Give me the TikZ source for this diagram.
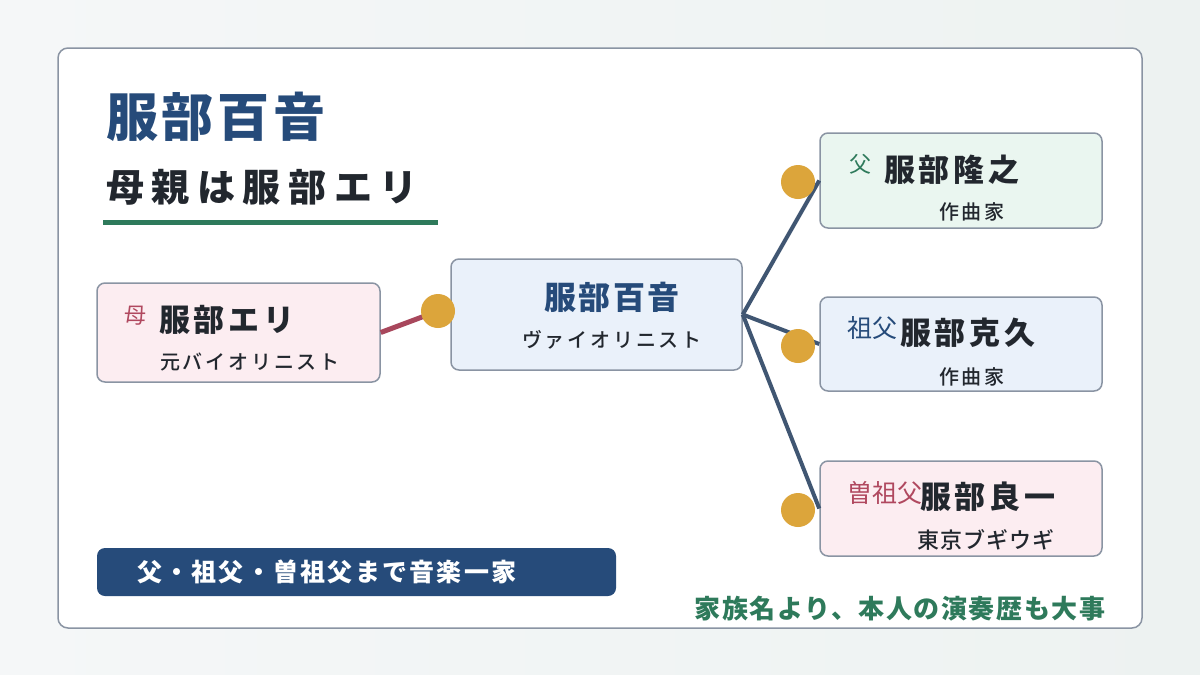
\documentclass[tikz,border=0pt]{standalone}
\usepackage{fontspec}
\setmainfont{Noto Sans CJK JP}
\newfontfamily\medfont{Noto Sans CJK JP Medium}
\definecolor{bgleft}{HTML}{F5F7F8}
\definecolor{bgright}{HTML}{EDF2F1}
\definecolor{frame}{HTML}{8A94A3}
\definecolor{navy}{HTML}{264B7A}
\definecolor{ink}{HTML}{22272E}
\definecolor{pine}{HTML}{2E7A5B}
\definecolor{rose}{HTML}{B0485F}
\definecolor{roseline}{HTML}{A8475C}
\definecolor{gold}{HTML}{DCA53B}
\definecolor{slate}{HTML}{405672}
\definecolor{rosefill}{HTML}{FCEDF1}
\definecolor{mintfill}{HTML}{EAF6F0}
\definecolor{skyfill}{HTML}{EAF1FA}
\tikzset{
  card/.style={draw=frame,rounded corners=8pt,line width=1.5pt,inner sep=0pt,
    minimum width=282pt,minimum height=95pt},
  dot/.style={circle,fill=gold,inner sep=0pt,minimum size=34pt},
  link/.style={slate,line width=4pt},
  kin/.style={font=\fontsize{22}{24}\selectfont,inner sep=0pt},
  person/.style={font=\bfseries\fontsize{31}{34}\selectfont\addfontfeatures{LetterSpace=12},
    text=ink,anchor=west,inner sep=0pt},
  roletext/.style={font=\medfont\fontsize{20}{22}\selectfont\addfontfeatures{LetterSpace=14},
    text=ink,inner sep=0pt},
}

\begin{document}
\begin{tikzpicture}[x=1pt,y=-1pt]
  \useasboundingbox (0,0) rectangle (1200,675);
  \shade[left color=bgleft,right color=bgright] (0,0) rectangle (1200,675);
  \draw[frame,fill=white,rounded corners=10pt,line width=1.5pt] (58,48) rectangle (1142,628);

  % Heading and rule.
  \node[anchor=west,inner sep=0pt,text=navy,
    font=\bfseries\fontsize{52}{56}\selectfont\addfontfeatures{LetterSpace=7}] (title)
    at (106,117) {服部百音};
  \node[anchor=west,inner sep=0pt,text=ink,
    font=\bfseries\fontsize{38}{42}\selectfont\addfontfeatures{LetterSpace=20}] (subtitle)
    at (106,187) {母親は服部エリ};
  \draw[pine,line width=5pt] (103,222) -- (438,222);

  % Mother and the violinist herself.
  \node[card,fill=rosefill,minimum width=283pt,minimum height=99pt] (eri) at (238.5,332.5) {};
  \node[card,fill=skyfill,minimum width=291pt,minimum height=111pt] (mone) at (596.5,314.5) {};
  \node[kin,text=rose] at (135,316) {母};
  \node[person] at (159,320) {服部エリ};
  \node[roletext] at (250,362) {元バイオリニスト};
  \node[inner sep=0pt,text=navy,
    font=\bfseries\fontsize{32}{34}\selectfont\addfontfeatures{LetterSpace=8}] at (612,297) {服部百音};
  \node[roletext] at (612,340) {ヴァイオリニスト};

  % Paternal line.
  \node[card,fill=mintfill] (takayuki) at (961,180.5) {};
  \node[card,fill=skyfill,minimum height=94pt] (katsuhisa) at (961,344) {};
  \node[card,fill=rosefill] (ryoichi) at (961,508.5) {};
  \node[kin,text=pine] at (860,164) {父};
  \node[person] at (884,170) {服部隆之};
  \node[roletext] at (972,212) {作曲家};
  \node[kin,text=navy,anchor=west,font=\fontsize{25}{27}\selectfont] at (847,328) {祖父};
  \node[person] at (900,333) {服部克久};
  \node[roletext] at (972,377) {作曲家};
  \node[kin,text=rose,anchor=west,font=\fontsize{25}{27}\selectfont] at (847,493) {曽祖父};
  \node[person] at (920,497) {服部良一};
  \node[roletext,font=\medfont\fontsize{22}{24}\selectfont\addfontfeatures{LetterSpace=4}]
    at (986,540) {東京ブギウギ};

  % Connectors and joints.
  \coordinate (jointL) at (438,311);
  \coordinate (jointA) at (798,182);
  \coordinate (jointB) at (798,346);
  \coordinate (jointC) at (798,510);
  \draw[roseline,line width=5pt] (eri.east) -- (jointL);
  \draw[link] (mone.east) -- (takayuki.west);
  \draw[link] (mone.east) -- (katsuhisa.west);
  \draw[link] (mone.east) -- (ryoichi.west);
  \node[dot] (dotL) at (jointL) {};
  \node[dot] (dotA) at (jointA) {};
  \node[dot] (dotB) at (jointB) {};
  \node[dot] (dotC) at (jointC) {};

  % Footer.
  \node[fill=navy,rounded corners=8pt,inner sep=0pt,minimum width=519pt,minimum height=48pt] (banner)
    at (356.5,572) {};
  \node[anchor=west,inner sep=0pt,text=white,
    font=\bfseries\fontsize{25}{27}\selectfont\addfontfeatures{LetterSpace=9}] at (137,572)
    {父・祖父・曽祖父まで音楽一家};
  \node[inner sep=0pt,text=pine,
    font=\bfseries\fontsize{26}{28}\selectfont\addfontfeatures{LetterSpace=6}] (note) at (900,609)
    {家族名より、本人の演奏歴も大事};
\end{tikzpicture}
\end{document}
